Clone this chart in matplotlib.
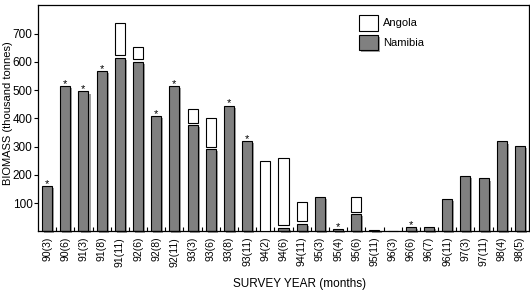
"""Biomass survey bar chart - Namibia / Angola."""
import numpy as np
import matplotlib
matplotlib.use('Agg')
import matplotlib.pyplot as plt
import matplotlib.patheffects as pe
from matplotlib.patches import Patch

plt.rcParams['font.family'] = ['Liberation Sans', 'DejaVu Sans']

surveys = ['90(3)', '90(6)', '91(3)', '91(8)', '91(11)', '92(6)', '92(8)', '92(11)',
           '93(3)', '93(6)', '93(8)', '93(11)', '94(2)', '94(6)', '94(11)', '95(3)',
           '95(4)', '95(6)', '95(11)', '96(3)', '96(6)', '96(7)', '96(11)', '97(3)',
           '97(11)', '98(4)', '98(5)']
namibia = [159, 515, 495, 566, 615, 601, 409, 515,
           375, 290, 445, 319, 0, 13, 27, 120,
           7, 61, 4, 0, 14, 14, 113, 195,
           187, 318, 301]
angola = [0, 0, 0, 0, 123, 52, 0, 0,
          59, 112, 0, 0, 248, 245, 76, 0,
          0, 62, 0, 0, 0, 0, 0, 0,
          0, 0, 0]
starred = ['90(3)', '90(6)', '91(3)', '91(8)', '92(8)', '92(11)', '93(8)', '93(11)',
           '95(4)', '96(6)']

GREY = '#808080'
SHADOW = '#a0a0a0'
GAP = 8
W = 0.55

fig = plt.figure(figsize=(5.3, 3.03), dpi=100)
ax = fig.add_axes([38 / 530, 1 - 231.3 / 303, 491 / 530, 226 / 303])

x = np.arange(len(surveys))
shadow = [pe.SimplePatchShadow(offset=(1.5, -1.5), shadow_rgbFace=SHADOW, alpha=1), pe.Normal()]

nam = ax.bar(x, namibia, width=W, color=GREY, edgecolor='black', linewidth=0.8,
             clip_on=False, zorder=2)
for b in nam:
    b.set_path_effects(shadow)

nam_arr = np.array(namibia)
ang_arr = np.array(angola)
has = ang_arr > 0
bottoms = np.where(nam_arr > 0, nam_arr + GAP, 0)
ax.bar(x[has], (ang_arr - np.where(nam_arr > 0, GAP, 0))[has], bottom=bottoms[has],
       width=W, color='white', edgecolor='black', linewidth=0.8, zorder=3)

for i, s in enumerate(surveys):
    if s in starred:
        ax.text(i, namibia[i] - 3, '*', ha='center', va='baseline', fontsize=8)

ax.set_xlim(-0.5, len(surveys) - 0.5)
ax.set_ylim(0, 800)
ax.set_yticks(range(100, 800, 100))
ax.tick_params(axis='y', direction='out', length=3, width=0.8, labelsize=8.5, pad=1)
ax.set_xticks(x)
ax.set_xticklabels(surveys, rotation=90, fontsize=7.5)
ax.tick_params(axis='x', which='major', length=0, pad=4)
ax.set_xticks(x[:-1] + 0.5, minor=True)
ax.tick_params(axis='x', which='minor', direction='in', length=3, width=0.8)
for sp in ax.spines.values():
    sp.set_linewidth(0.9)

ax.set_ylabel('BIOMASS (thousand tonnes)', fontsize=8)
ax.yaxis.set_label_coords(-0.050, 0.521)
ax.set_xlabel('SURVEY YEAR (months)', fontsize=8.5)
ax.xaxis.set_label_coords(0.532, -0.207)

handles = [Patch(facecolor='white', edgecolor='black', linewidth=0.8),
           Patch(facecolor=GREY, edgecolor='black', linewidth=0.8, path_effects=shadow)]
ax.legend(handles, ['Angola', 'Namibia'], loc='upper left',
          bbox_to_anchor=(359 / 530, 1 - 15 / 303), bbox_transform=fig.transFigure,
          frameon=False, fontsize=8, handlelength=1.7, handleheight=1.8,
          handletextpad=0.5, labelspacing=0.35, borderpad=0, borderaxespad=0)

fig.savefig('out.png', dpi=100)
